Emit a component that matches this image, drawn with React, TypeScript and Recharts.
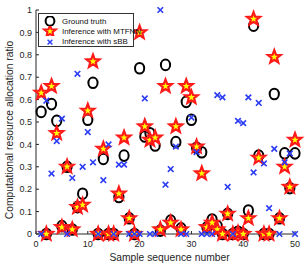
import React from 'react';
import { ScatterChart, Scatter, XAxis, YAxis, Legend, Label } from 'recharts';

const sampleIndex: number[] = Array.from({ length: 50 }, (_, i) => i + 1);

const groundTruth: number[] = [
  0.545, 0, 0.58, 0.505, 0.035, 0.3, 0.02, 0.12, 0.18, 0.51,
  0.675, 0, 0.335, 0, 0, 0.165, 0.35, 0.07, 0, 0.74,
  0.435, 0.45, 0.395, 0.015, 0.755, 0.06, 0.41, 0.025, 0.59, 0.51,
  0.385, 0.365, 0.03, 0.065, 0.035, 0, 0.09, 0, 0.01, 0,
  0.105, 0.93, 0.35, 0, 0, 0.625, 0.07, 0.36, 0.205, 0.36,
];

const mtfnn: number[] = [
  0.63, 0, 0.66, 0.45, 0.03, 0.3, 0.02, 0.12, 0.13, 0.55,
  0.77, 0, 0.38, 0, 0, 0.18, 0.43, 0.07, 0, 0.9,
  0.48, 0.42, 0.43, 0.02, 0.66, 0.05, 0.48, 0.02, 0.66, 0.61,
  0.39, 0.27, 0.03, 0.05, 0.02, 0, 0.09, 0, 0.005, 0,
  0.07, 0.96, 0.34, 0, 0, 0.79, 0.07, 0.3, 0.21, 0.42,
];

const sbb: number[] = [
  0, 0.595, 0.27, 0.415, 0.515, 0, 0.25, 0.715, 0.3, 0.455,
  0.32, 0, 0.24, 0.4, 0, 0.31, 0.31, 0, 0, 0,
  0.605, 0, 0, 1.0, 0.22, 0.29, 0.39, 0, 0, 0.52,
  0.365, 0, 0, 0, 0.62, 0.61, 0.21, 0, 0.505, 0.495,
  0.61, 0.275, 0.585, 0.315, 0.115, 0.38, 0, 0.32, 0.36, 0,
];

const xTicks: number[] = [0, 10, 20, 30, 40, 50];
const yTicks: number[] = [0, 0.1, 0.2, 0.3, 0.4, 0.5, 0.6, 0.7, 0.8, 0.9, 1];

const seriesNames = ['Ground truth', 'Inference with MTFNN', 'Inference with sBB'];

const gtData = sampleIndex.map((x, i) => ({ x, y: groundTruth[i] }));
const mtData = sampleIndex.map((x, i) => ({ x, y: mtfnn[i] }));
const sbData = sampleIndex.map((x, i) => ({ x, y: sbb[i] }));

const FONT = '"Liberation Sans", Arial, sans-serif';
const AXIS = '#262626';
const BLUE = '#2b3cf5';

const starPath = (cx: number, cy: number, R: number) => {
  const r = R * 0.42;
  let d = '';
  for (let k = 0; k < 10; k++) {
    const rad = k % 2 === 0 ? R : r;
    const a = -Math.PI / 2 + (k * Math.PI) / 5;
    d += (k === 0 ? 'M' : 'L') + (cx + rad * Math.cos(a)).toFixed(2) + ',' + (cy + rad * Math.sin(a)).toFixed(2);
  }
  return d + 'Z';
};

const CircleShape = (p: any) => (
  <ellipse cx={p.cx} cy={p.cy} rx={4.6} ry={5.3} fill="none" stroke="#000" strokeWidth={2} />
);
const StarShape = (p: any) => (
  <path d={starPath(p.cx, p.cy, 6.8)} fill="#ffff00" stroke="#ff1a1a" strokeWidth={2.2} strokeLinejoin="miter" />
);
const XShape = (p: any) => (
  <g stroke={BLUE} strokeWidth={1.6}>
    <line x1={p.cx - 2.8} y1={p.cy - 2.8} x2={p.cx + 2.8} y2={p.cy + 2.8} />
    <line x1={p.cx - 2.8} y1={p.cy + 2.8} x2={p.cx + 2.8} y2={p.cy - 2.8} />
  </g>
);

const LegendBox = () => (
  <div
    style={{
      border: '1px solid #333',
      background: '#fff',
      width: 96,
      height: 34,
      boxSizing: 'border-box',
      fontFamily: FONT,
      fontSize: 7.9,
      color: '#111',
      padding: '2px 0 0 0',
    }}
  >
    {seriesNames.map((n, i) => (
      <div key={n} style={{ display: 'flex', alignItems: 'center', height: 10.3 }}>
        <svg width={22} height={10} style={{ flex: 'none' }}>
          {i === 0 && <ellipse cx={11} cy={5} rx={4.4} ry={4.8} fill="none" stroke="#000" strokeWidth={2} />}
          {i === 1 && <path d={starPath(11, 5.3, 6.2)} fill="#ffff00" stroke="#ff1a1a" strokeWidth={2} />}
          {i === 2 && (
            <g stroke={BLUE} strokeWidth={1.4}>
              <line x1={8.6} y1={2.8} x2={13.4} y2={7.6} />
              <line x1={8.6} y1={7.6} x2={13.4} y2={2.8} />
            </g>
          )}
        </svg>
        <span style={{ whiteSpace: 'nowrap', marginLeft: 1 }}>{n}</span>
      </div>
    ))}
  </div>
);

export default function App() {
  return (
    <div style={{ position: 'absolute', left: 0, top: 0, background: '#fff' }}>
      <ScatterChart width={305} height={270} margin={{ top: 10, right: 10, left: 0, bottom: 0 }}>
        <XAxis
          dataKey="x"
          type="number"
          domain={[0, 50]}
          ticks={xTicks}
          interval={0}
          height={36}
          stroke={AXIS}
          tickSize={-3}
          tickMargin={10}
          tick={{ fontSize: 9, fontFamily: FONT, fill: AXIS }}
        >
          <Label
            content={(props: any) => {
              const vb = props.viewBox || {};
              return (
                <text
                  x={(vb.x ?? 36) + (vb.width ?? 259) / 2 + 4}
                  y={261}
                  textAnchor="middle"
                  fontSize={10.3}
                  fontFamily={FONT}
                  fill={AXIS}
                >
                  Sample sequence number
                </text>
              );
            }}
          />
        </XAxis>
        <XAxis
          xAxisId="top"
          orientation="top"
          type="number"
          domain={[0, 50]}
          ticks={xTicks}
          height={0}
          stroke={AXIS}
          tickSize={-3}
          tickFormatter={() => ''}
        />
        <YAxis
          dataKey="y"
          type="number"
          domain={[0, 1]}
          ticks={yTicks}
          interval={0}
          width={36}
          stroke={AXIS}
          tickSize={-3}
          tickMargin={7}
          tickFormatter={(v: number) => String(Math.round(v * 10) / 10)}
          tick={{ fontSize: 9, fontFamily: FONT, fill: AXIS }}
        >
          <Label
            content={() => (
              <text
                x={0}
                y={0}
                transform="translate(13,130) rotate(-90)"
                textAnchor="middle"
                fontSize={10.3}
                fontFamily={FONT}
                fill={AXIS}
              >
                Computational resource allocation ratio
              </text>
            )}
          />
        </YAxis>
        <YAxis
          yAxisId="right"
          orientation="right"
          type="number"
          domain={[0, 1]}
          ticks={yTicks}
          width={0}
          stroke={AXIS}
          tickSize={-3}
          tickFormatter={() => ''}
        />
        <Legend
          layout="horizontal"
          verticalAlign="middle"
          align="center"
          content={() => <LegendBox />}
          wrapperStyle={{ position: 'absolute', left: 38, top: 13, width: 96, height: 34 }}
        />
        <Scatter name={seriesNames[0]} data={gtData} shape={CircleShape} isAnimationActive={false} />
        <Scatter name={seriesNames[1]} data={mtData} shape={StarShape} isAnimationActive={false} />
        <Scatter name={seriesNames[2]} data={sbData} shape={XShape} isAnimationActive={false} />
      </ScatterChart>
    </div>
  );
}
